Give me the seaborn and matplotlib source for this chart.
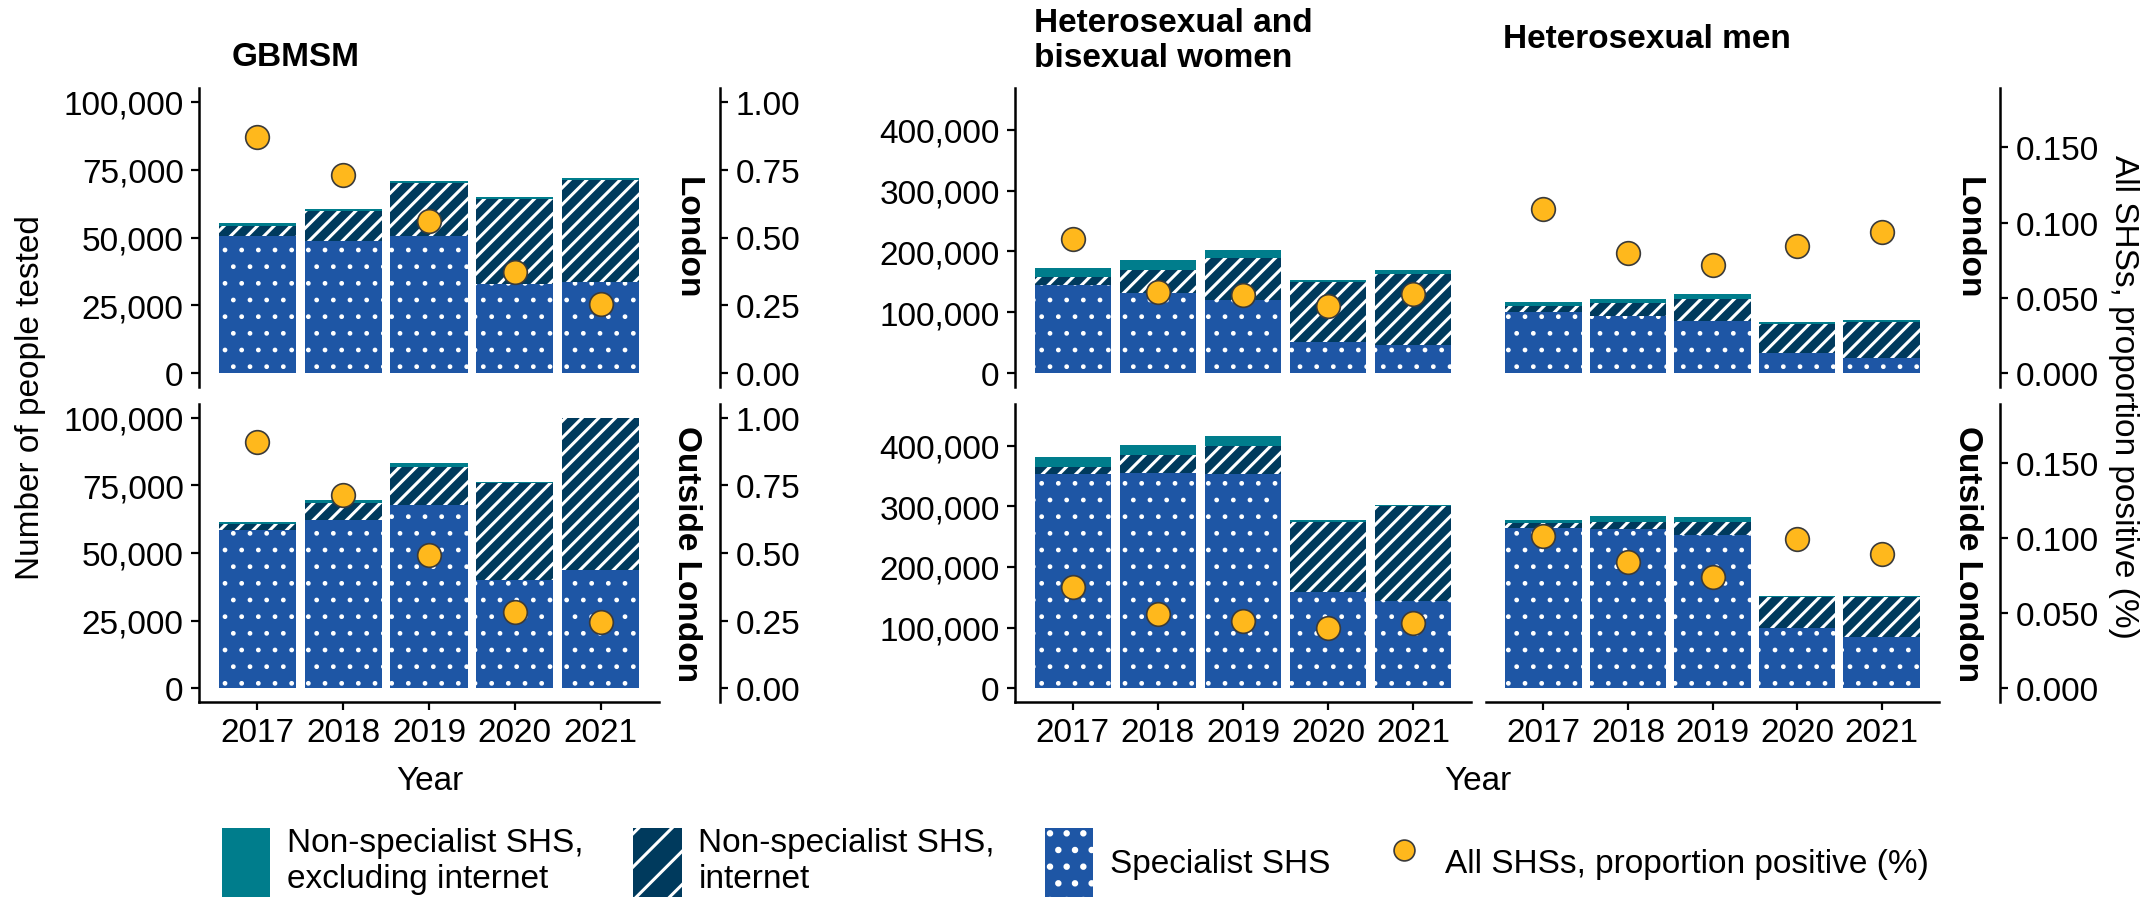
import numpy as np
import pandas as pd
import matplotlib
matplotlib.use("Agg")
import matplotlib.pyplot as plt
import seaborn as sns
from matplotlib.patches import Patch
from matplotlib.lines import Line2D
from matplotlib.ticker import FuncFormatter

# --- Data ---
YEARS = ["2017", "2018", "2019", "2020", "2021"]

# GBMSM
GBMSM_LON_SPEC = [50700, 48800, 50400, 33000, 33700]
GBMSM_LON_INTERNET = [3700, 11100, 19500, 31300, 37500]
GBMSM_LON_OTHER = [800, 700, 900, 700, 700]
GBMSM_LON_PROP = [0.869, 0.729, 0.560, 0.372, 0.255]

GBMSM_OUT_SPEC = [58400, 62300, 67900, 40000, 43600]
GBMSM_OUT_INTERNET = [2300, 6200, 13800, 35800, 56200]
GBMSM_OUT_OTHER = [900, 900, 1700, 300, 200]
GBMSM_OUT_PROP = [0.909, 0.713, 0.492, 0.282, 0.247]

# Heterosexual and bisexual women
WOMEN_LON_SPEC = [145600, 131900, 120300, 50500, 46200]
WOMEN_LON_INTERNET = [12100, 38400, 68700, 99000, 117500]
WOMEN_LON_OTHER = [14800, 15400, 13200, 3800, 5000]
WOMEN_LON_PROP = [0.0891, 0.0536, 0.0518, 0.0447, 0.0525]

WOMEN_OUT_SPEC = [353000, 355300, 354200, 158900, 144000]
WOMEN_OUT_INTERNET = [11700, 28700, 45800, 114800, 156000]
WOMEN_OUT_OTHER = [17600, 17000, 16600, 3300, 2300]
WOMEN_OUT_PROP = [0.0674, 0.0491, 0.0447, 0.0399, 0.0432]

# Heterosexual men
MEN_LON_SPEC = [100000, 94500, 86300, 33000, 24200]
MEN_LON_INTERNET = [11000, 20900, 35700, 47000, 60200]
MEN_LON_OTHER = [6600, 7100, 7700, 3500, 3500]
MEN_LON_PROP = [0.109, 0.0795, 0.0718, 0.0846, 0.0935]

MEN_OUT_SPEC = [264800, 262600, 252700, 99300, 84400]
MEN_OUT_INTERNET = [7200, 12200, 22100, 50500, 65400]
MEN_OUT_OTHER = [5000, 9200, 8200, 2500, 2500]
MEN_OUT_PROP = [0.1015, 0.0839, 0.0740, 0.0991, 0.0894]

LEGEND_LABELS = ["Non-specialist SHS,\nexcluding internet",
                 "Non-specialist SHS,\ninternet",
                 "Specialist SHS",
                 "All SHSs, proportion positive (%)"]

# --- Style ---
TEAL = "#007D8C"
NAVY = "#003A5D"
BLUE = "#1E56A5"
YELLOW = "#FFB81C"
DOT_EDGE = "#3A3A3A"

W, H = 2151, 903
FS = 24

sns.set_style("ticks")
plt.rcParams["font.family"] = ["Liberation Sans", "DejaVu Sans"]
plt.rcParams["hatch.linewidth"] = 2.2
plt.rcParams["axes.linewidth"] = 1.8
for k in ["text.color", "axes.labelcolor", "xtick.color", "ytick.color", "axes.edgecolor"]:
    plt.rcParams[k] = "black"


def px(x):
    return x / W


def py(y):
    return 1 - y / H


def box(x0, x1, y0, y1):
    return [px(x0), py(y1), px(x1) - px(x0), py(y0) - py(y1)]


def draw_panel(ax, spec, internet, other, prop, ylim, ylim2, bottom_row):
    df = pd.DataFrame({"Year": YEARS, "spec": spec,
                       "internet": internet, "other": other})
    df["upto_internet"] = df["spec"] + df["internet"]
    df["total"] = df["upto_internet"] + df["other"]

    common = dict(data=df, x="Year", ax=ax, width=0.9, saturation=1,
                  errorbar=None, edgecolor="white", linewidth=0)
    sns.barplot(y="total", color=TEAL, **common)
    sns.barplot(y="upto_internet", color=NAVY, hatch="//", **common)
    with plt.rc_context({"hatch.linewidth": 1.0}):
        sns.barplot(y="spec", color=BLUE, hatch=".", **common)

    ax.set_xlim(-0.68, 4.68)
    ax.set_ylim(*ylim)
    ax.set_xlabel("")
    ax.set_ylabel("")
    for s in ["top", "right"]:
        ax.spines[s].set_visible(False)
    ax.tick_params(axis="both", labelsize=FS, length=6, width=1.6, pad=5)
    if not bottom_row:
        ax.spines["bottom"].set_visible(False)
        ax.tick_params(axis="x", bottom=False, labelbottom=False)

    ax2 = ax.twinx()
    sns.scatterplot(x=np.arange(len(YEARS)), y=prop, ax=ax2, s=290,
                    color=YELLOW, edgecolor=DOT_EDGE, linewidth=1.2,
                    zorder=5, legend=False)
    ax2.set_ylim(*ylim2)
    ax2.set_xlim(-0.68, 4.68)
    for s in ["top", "left", "bottom"]:
        ax2.spines[s].set_visible(False)
    ax2.tick_params(axis="y", labelsize=FS, length=6, width=1.6, pad=5)
    return ax2


fig = plt.figure(figsize=(W / 100, H / 100), dpi=100)

rows = [(89, 388), (405, 703)]
cols = {"gbmsm": (199, 659), "women": (1015, 1471), "men": (1486, 1939)}

GB_YLIM = (-5000, 105000)
GB_YLIM2 = (-0.05, 1.05)
HET_YLIM = (-23000, 469000)
HET_YLIM2 = (-0.0093, 0.1894)

panels = {
    "gbmsm": [(GBMSM_LON_SPEC, GBMSM_LON_INTERNET, GBMSM_LON_OTHER, GBMSM_LON_PROP),
              (GBMSM_OUT_SPEC, GBMSM_OUT_INTERNET, GBMSM_OUT_OTHER, GBMSM_OUT_PROP)],
    "women": [(WOMEN_LON_SPEC, WOMEN_LON_INTERNET, WOMEN_LON_OTHER, WOMEN_LON_PROP),
              (WOMEN_OUT_SPEC, WOMEN_OUT_INTERNET, WOMEN_OUT_OTHER, WOMEN_OUT_PROP)],
    "men": [(MEN_LON_SPEC, MEN_LON_INTERNET, MEN_LON_OTHER, MEN_LON_PROP),
            (MEN_OUT_SPEC, MEN_OUT_INTERNET, MEN_OUT_OTHER, MEN_OUT_PROP)],
}

comma_fmt = FuncFormatter(lambda v, p: f"{v:,.0f}")
for key, (x0, x1) in cols.items():
    for r, (y0, y1) in enumerate(rows):
        ax = fig.add_axes(box(x0, x1, y0, y1))
        spec, internet, other, prop = panels[key][r]
        if key == "gbmsm":
            ax2 = draw_panel(ax, spec, internet, other, prop, GB_YLIM, GB_YLIM2, r == 1)
            ax.set_yticks([0, 25000, 50000, 75000, 100000])
            ax.yaxis.set_major_formatter(comma_fmt)
            ax2.set_yticks([0, 0.25, 0.5, 0.75, 1.0])
            ax2.yaxis.set_major_formatter(FuncFormatter(lambda v, p: f"{v:.2f}"))
            ax2.spines["right"].set_position(("outward", 44))
        else:
            ax2 = draw_panel(ax, spec, internet, other, prop, HET_YLIM, HET_YLIM2, r == 1)
            ax.set_yticks([0, 100000, 200000, 300000, 400000])
            ax.yaxis.set_major_formatter(comma_fmt)
            ax2.set_yticks([0, 0.05, 0.10, 0.15])
            ax2.yaxis.set_major_formatter(FuncFormatter(lambda v, p: f"{v:.3f}"))
            if key == "men":
                ax.spines["left"].set_visible(False)
                ax.tick_params(axis="y", left=False, labelleft=False)
                ax2.spines["right"].set_position(("outward", 44))
            else:
                ax2.spines["right"].set_visible(False)
                ax2.tick_params(axis="y", right=False, labelright=False)

# strip labels
for x_strip in (687, 1968):
    fig.text(px(x_strip), py(238), "London", rotation=-90, fontsize=FS,
             fontweight="bold", ha="center", va="center")
    fig.text(px(x_strip), py(554), "Outside London", rotation=-90, fontsize=FS,
             fontweight="bold", ha="center", va="center")

# panel titles
fig.text(px(232), py(58), "GBMSM", fontsize=FS, fontweight="bold", ha="left", va="center")
fig.text(px(1034), py(41), "Heterosexual and\nbisexual women", fontsize=FS,
         fontweight="bold", ha="left", va="center", linespacing=1.15)
fig.text(px(1503), py(40), "Heterosexual men", fontsize=FS, fontweight="bold",
         ha="left", va="center")

# axis titles
fig.text(px(31), py(398), "Number of people tested", rotation=90, fontsize=FS,
         ha="center", va="center")
fig.text(px(2124), py(397), "All SHSs, proportion positive (%)", rotation=-90,
         fontsize=FS, ha="center", va="center")
fig.text(px(430), py(782), "Year", fontsize=FS, ha="center", va="center")
fig.text(px(1478), py(782), "Year", fontsize=FS, ha="center", va="center")

# legend
handles = [
    Patch(facecolor=TEAL, edgecolor="white", linewidth=0),
    Patch(facecolor=NAVY, edgecolor="white", linewidth=0, hatch="/"),
    Patch(facecolor=BLUE, edgecolor="white", linewidth=0, hatch="."),
    Line2D([], [], marker="o", linestyle="", markersize=15,
           markerfacecolor=YELLOW, markeredgecolor=DOT_EDGE, markeredgewidth=1.2),
]
fig.legend(handles, LEGEND_LABELS, loc="upper center", bbox_to_anchor=(0.5, py(828)),
           ncol=4, frameon=False, fontsize=FS, handlelength=1.45, handleheight=2.8,
           handletextpad=0.5, columnspacing=1.5, borderaxespad=0, borderpad=0)

fig.savefig("out.png", dpi=100)
